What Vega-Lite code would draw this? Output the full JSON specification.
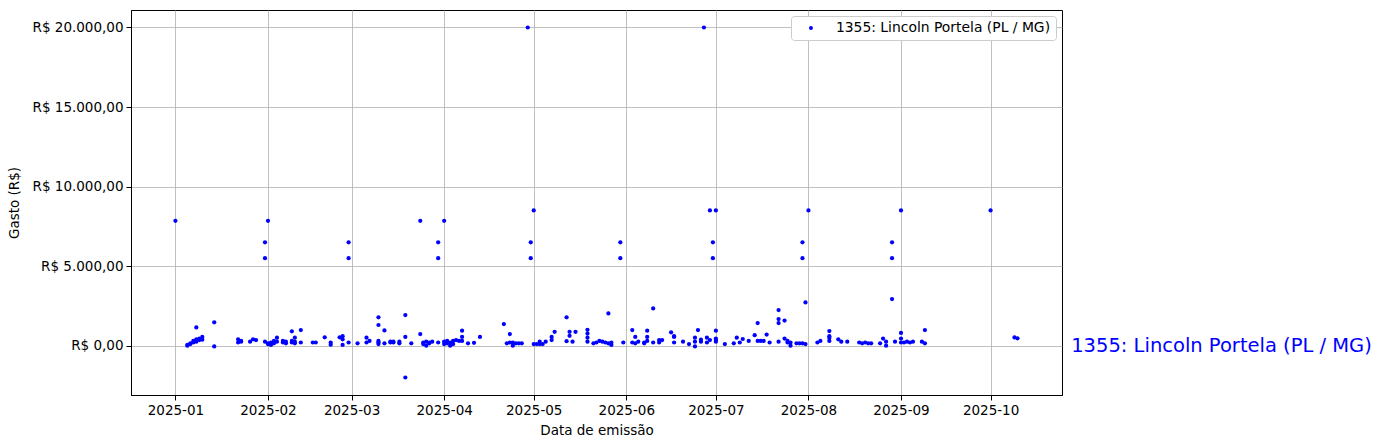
{
  "$schema": "https://vega.github.io/schema/vega-lite/v6.json",
  "autosize": "none",
  "padding": {"left": 131, "top": 10, "right": 319, "bottom": 53},
  "width": 931,
  "height": 385,
  "background": "white",
  "config": {
    "font": "DejaVu Sans",
    "view": {"stroke": "black", "strokeWidth": 1},
    "axis": {
      "labelFont": "DejaVu Sans", "labelFontSize": 13.5, "labelColor": "black",
      "titleFont": "DejaVu Sans", "titleFontSize": 13.5, "titleFontWeight": "normal", "titleColor": "black",
      "domainColor": "black", "tickColor": "black", "tickSize": 5, "labelPadding": 3,
      "grid": true, "gridColor": "#b0b0b0", "gridWidth": 0.8, "zindex": 1
    }
  },
  "datasets": {
    "gastos": [
      {"data":"2025-01-01","valor":7850},
      {"data":"2025-01-05","valor":0},{"data":"2025-01-05","valor":50},
      {"data":"2025-01-06","valor":100},{"data":"2025-01-06","valor":150},
      {"data":"2025-01-07","valor":200},{"data":"2025-01-07","valor":300},
      {"data":"2025-01-08","valor":250},{"data":"2025-01-08","valor":400},{"data":"2025-01-08","valor":1150},
      {"data":"2025-01-09","valor":350},{"data":"2025-01-09","valor":450},
      {"data":"2025-01-10","valor":380},{"data":"2025-01-10","valor":550},
      {"data":"2025-01-14","valor":1470},{"data":"2025-01-14","valor":-50},
      {"data":"2025-01-22","valor":400},{"data":"2025-01-22","valor":200},
      {"data":"2025-01-23","valor":300},{"data":"2025-01-23","valor":250},
      {"data":"2025-01-26","valor":250},{"data":"2025-01-27","valor":400},{"data":"2025-01-28","valor":350},
      {"data":"2025-01-31","valor":6500},{"data":"2025-01-31","valor":5500},{"data":"2025-01-31","valor":250},
      {"data":"2025-02-01","valor":7850},{"data":"2025-02-01","valor":150},{"data":"2025-02-01","valor":100},
      {"data":"2025-02-02","valor":200},{"data":"2025-02-02","valor":50},
      {"data":"2025-02-03","valor":150},{"data":"2025-02-03","valor":300},
      {"data":"2025-02-04","valor":500},{"data":"2025-02-04","valor":250},
      {"data":"2025-02-06","valor":200},{"data":"2025-02-06","valor":300},
      {"data":"2025-02-07","valor":250},{"data":"2025-02-07","valor":150},
      {"data":"2025-02-09","valor":900},{"data":"2025-02-09","valor":200},{"data":"2025-02-09","valor":300},
      {"data":"2025-02-10","valor":150},{"data":"2025-02-10","valor":500},{"data":"2025-02-10","valor":250},
      {"data":"2025-02-12","valor":980},{"data":"2025-02-12","valor":200},
      {"data":"2025-02-16","valor":200},{"data":"2025-02-17","valor":200},
      {"data":"2025-02-20","valor":525},
      {"data":"2025-02-22","valor":200},{"data":"2025-02-22","valor":60},
      {"data":"2025-02-25","valor":525},
      {"data":"2025-02-26","valor":600},{"data":"2025-02-26","valor":400},{"data":"2025-02-26","valor":50},
      {"data":"2025-02-28","valor":6500},{"data":"2025-02-28","valor":5500},{"data":"2025-02-28","valor":200},
      {"data":"2025-03-03","valor":150},
      {"data":"2025-03-06","valor":200},{"data":"2025-03-06","valor":500},
      {"data":"2025-03-07","valor":300},
      {"data":"2025-03-10","valor":1780},{"data":"2025-03-10","valor":1300},{"data":"2025-03-10","valor":200},{"data":"2025-03-10","valor":100},{"data":"2025-03-10","valor":300},
      {"data":"2025-03-12","valor":960},{"data":"2025-03-12","valor":150},
      {"data":"2025-03-14","valor":200},{"data":"2025-03-14","valor":250},
      {"data":"2025-03-15","valor":250},{"data":"2025-03-15","valor":200},
      {"data":"2025-03-17","valor":250},{"data":"2025-03-17","valor":150},
      {"data":"2025-03-19","valor":1925},{"data":"2025-03-19","valor":-2000},{"data":"2025-03-19","valor":550},
      {"data":"2025-03-21","valor":150},
      {"data":"2025-03-24","valor":7850},
      {"data":"2025-03-24","valor":730},
      {"data":"2025-03-25","valor":200},{"data":"2025-03-25","valor":100},
      {"data":"2025-03-26","valor":250},{"data":"2025-03-26","valor":0},
      {"data":"2025-03-27","valor":150},{"data":"2025-03-27","valor":200},
      {"data":"2025-03-28","valor":250},
      {"data":"2025-03-30","valor":6500},{"data":"2025-03-30","valor":5500},{"data":"2025-03-30","valor":200},
      {"data":"2025-04-01","valor":7850},{"data":"2025-04-01","valor":250},{"data":"2025-04-01","valor":100},
      {"data":"2025-04-02","valor":300},{"data":"2025-04-02","valor":150},
      {"data":"2025-04-03","valor":200},{"data":"2025-04-03","valor":0},
      {"data":"2025-04-04","valor":300},{"data":"2025-04-04","valor":100},
      {"data":"2025-04-05","valor":350},{"data":"2025-04-06","valor":300},
      {"data":"2025-04-07","valor":940},{"data":"2025-04-07","valor":550},{"data":"2025-04-07","valor":300},
      {"data":"2025-04-09","valor":150},{"data":"2025-04-11","valor":180},{"data":"2025-04-13","valor":550},
      {"data":"2025-04-21","valor":1360},{"data":"2025-04-22","valor":150},
      {"data":"2025-04-23","valor":730},{"data":"2025-04-23","valor":200},
      {"data":"2025-04-24","valor":200},{"data":"2025-04-24","valor":0},
      {"data":"2025-04-25","valor":150},{"data":"2025-04-26","valor":150},{"data":"2025-04-27","valor":150},
      {"data":"2025-04-29","valor":20000},
      {"data":"2025-04-30","valor":6500},{"data":"2025-04-30","valor":5500},
      {"data":"2025-05-01","valor":8500},{"data":"2025-05-01","valor":100},
      {"data":"2025-05-02","valor":100},
      {"data":"2025-05-03","valor":250},{"data":"2025-05-03","valor":100},
      {"data":"2025-05-04","valor":100},{"data":"2025-05-05","valor":250},
      {"data":"2025-05-07","valor":350},{"data":"2025-05-07","valor":550},
      {"data":"2025-05-08","valor":870},
      {"data":"2025-05-12","valor":1780},{"data":"2025-05-12","valor":280},
      {"data":"2025-05-13","valor":870},{"data":"2025-05-13","valor":620},
      {"data":"2025-05-14","valor":250},{"data":"2025-05-15","valor":870},
      {"data":"2025-05-19","valor":1000},{"data":"2025-05-19","valor":760},{"data":"2025-05-19","valor":500},{"data":"2025-05-19","valor":250},
      {"data":"2025-05-21","valor":150},{"data":"2025-05-22","valor":200},{"data":"2025-05-23","valor":300},
      {"data":"2025-05-24","valor":250},{"data":"2025-05-25","valor":200},
      {"data":"2025-05-26","valor":2030},{"data":"2025-05-26","valor":150},
      {"data":"2025-05-27","valor":50},{"data":"2025-05-27","valor":200},
      {"data":"2025-05-30","valor":6500},{"data":"2025-05-30","valor":5500},
      {"data":"2025-05-31","valor":200},
      {"data":"2025-06-03","valor":980},{"data":"2025-06-03","valor":200},
      {"data":"2025-06-04","valor":550},{"data":"2025-06-04","valor":150},
      {"data":"2025-06-05","valor":250},
      {"data":"2025-06-07","valor":200},{"data":"2025-06-07","valor":150},
      {"data":"2025-06-08","valor":940},{"data":"2025-06-08","valor":550},{"data":"2025-06-08","valor":300},
      {"data":"2025-06-10","valor":2340},{"data":"2025-06-10","valor":200},
      {"data":"2025-06-12","valor":350},{"data":"2025-06-12","valor":200},
      {"data":"2025-06-13","valor":350},
      {"data":"2025-06-16","valor":840},
      {"data":"2025-06-17","valor":600},{"data":"2025-06-17","valor":550},{"data":"2025-06-17","valor":200},
      {"data":"2025-06-20","valor":250},{"data":"2025-06-22","valor":100},
      {"data":"2025-06-24","valor":500},{"data":"2025-06-24","valor":250},{"data":"2025-06-24","valor":-50},
      {"data":"2025-06-25","valor":980},
      {"data":"2025-06-27","valor":20000},{"data":"2025-06-26","valor":380},{"data":"2025-06-26","valor":250},
      {"data":"2025-06-28","valor":500},{"data":"2025-06-28","valor":200},
      {"data":"2025-06-29","valor":8500},{"data":"2025-06-29","valor":350},
      {"data":"2025-06-30","valor":6500},{"data":"2025-06-30","valor":5500},
      {"data":"2025-07-01","valor":8500},{"data":"2025-07-01","valor":940},{"data":"2025-07-01","valor":450},{"data":"2025-07-01","valor":250},{"data":"2025-07-01","valor":350},
      {"data":"2025-07-04","valor":100},{"data":"2025-07-07","valor":150},{"data":"2025-07-08","valor":500},
      {"data":"2025-07-09","valor":200},{"data":"2025-07-10","valor":420},{"data":"2025-07-12","valor":300},
      {"data":"2025-07-14","valor":660},
      {"data":"2025-07-15","valor":1420},{"data":"2025-07-15","valor":300},
      {"data":"2025-07-16","valor":300},{"data":"2025-07-17","valor":300},
      {"data":"2025-07-18","valor":700},{"data":"2025-07-19","valor":200},
      {"data":"2025-07-22","valor":2240},{"data":"2025-07-22","valor":1670},{"data":"2025-07-22","valor":1420},{"data":"2025-07-22","valor":250},
      {"data":"2025-07-24","valor":1580},{"data":"2025-07-24","valor":450},
      {"data":"2025-07-25","valor":300},{"data":"2025-07-25","valor":200},
      {"data":"2025-07-26","valor":0},{"data":"2025-07-26","valor":200},
      {"data":"2025-07-28","valor":150},{"data":"2025-07-29","valor":150},
      {"data":"2025-07-30","valor":6500},{"data":"2025-07-30","valor":5500},{"data":"2025-07-30","valor":150},
      {"data":"2025-07-31","valor":2720},{"data":"2025-07-31","valor":100},
      {"data":"2025-08-01","valor":8500},
      {"data":"2025-08-04","valor":200},{"data":"2025-08-05","valor":300},
      {"data":"2025-08-08","valor":920},{"data":"2025-08-08","valor":600},{"data":"2025-08-08","valor":480},{"data":"2025-08-08","valor":300},
      {"data":"2025-08-11","valor":400},{"data":"2025-08-12","valor":250},{"data":"2025-08-14","valor":250},
      {"data":"2025-08-18","valor":200},{"data":"2025-08-19","valor":150},{"data":"2025-08-20","valor":200},
      {"data":"2025-08-21","valor":150},{"data":"2025-08-22","valor":150},{"data":"2025-08-25","valor":150},
      {"data":"2025-08-26","valor":450},
      {"data":"2025-08-27","valor":250},{"data":"2025-08-27","valor":0},
      {"data":"2025-08-29","valor":6500},{"data":"2025-08-29","valor":5500},{"data":"2025-08-29","valor":2930},
      {"data":"2025-08-30","valor":250},
      {"data":"2025-09-01","valor":8500},{"data":"2025-09-01","valor":800},{"data":"2025-09-01","valor":450},{"data":"2025-09-01","valor":200},
      {"data":"2025-09-02","valor":200},{"data":"2025-09-03","valor":250},{"data":"2025-09-04","valor":200},
      {"data":"2025-09-05","valor":250},{"data":"2025-09-08","valor":250},
      {"data":"2025-09-09","valor":150},{"data":"2025-09-09","valor":980},
      {"data":"2025-10-01","valor":8500},
      {"data":"2025-10-09","valor":520},{"data":"2025-10-10","valor":460}
    ],
    "rotulo": [
      {"data":"2025-10-28","valor":0,"texto":"1355: Lincoln Portela (PL / MG)"}
    ]
  },
  "layer": [
    {
      "data": {"name": "gastos"},
      "mark": {"type": "point", "filled": true, "opacity": 1, "shape": "circle", "size": 18},
      "encoding": {
        "x": {
          "field": "data", "type": "temporal", "title": "Data de emissão",
          "scale": {"type": "utc", "domain": [{"year":2024,"month":12,"date":17,"hours":3,"utc":true},{"year":2025,"month":10,"date":24,"hours":22,"utc":true}], "nice": false},
          "axis": {"format": "%Y-%m", "tickCount": {"interval": "month", "step": 1}, "titlePadding": 7}
        },
        "y": {
          "field": "valor", "type": "quantitative", "title": "Gasto (R$)",
          "scale": {"domain": [-3100, 21100], "nice": false, "zero": false},
          "axis": {
            "values": [0, 5000, 10000, 15000, 20000],
            "labelExpr": "'R$ ' + replace(replace(replace(format(datum.value, ',.2f'), ',', '#'), '.', ','), '#', '.')",
            "titlePadding": 11
          }
        },
        "color": {
          "datum": "1355: Lincoln Portela (PL / MG)",
          "scale": {"range": ["#0000ff"]},
          "legend": {
            "title": null, "orient": "top-right", "offset": 6, "padding": 5,
            "strokeColor": "#cccccc", "fillColor": "white", "cornerRadius": 3,
            "labelFont": "DejaVu Sans", "labelFontSize": 13.9, "labelColor": "black", "labelLimit": 0,
            "symbolType": "circle", "symbolSize": 16, "symbolOffset": 8, "labelOffset": 18
          }
        }
      }
    },
    {
      "data": {"name": "rotulo"},
      "mark": {"type": "text", "align": "left", "baseline": "middle", "fontSize": 19.5, "font": "DejaVu Sans", "color": "#0000ff"},
      "encoding": {
        "x": {"field": "data", "type": "temporal"},
        "y": {"field": "valor", "type": "quantitative"},
        "text": {"field": "texto"}
      }
    }
  ]
}
